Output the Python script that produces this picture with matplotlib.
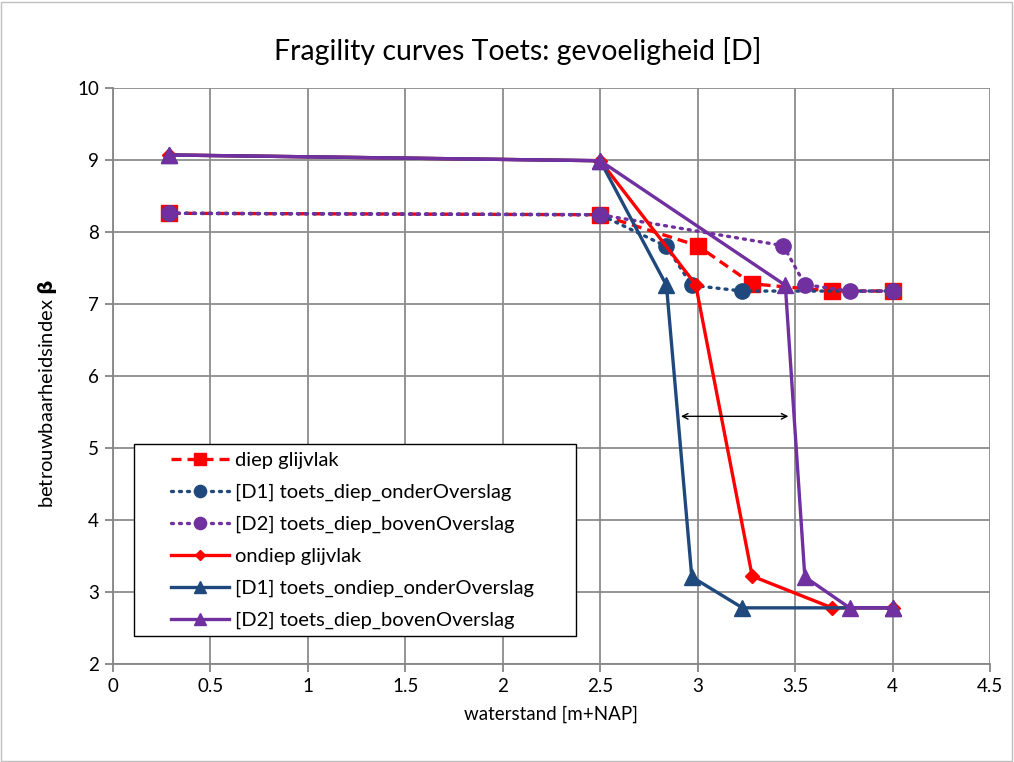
import matplotlib
matplotlib.use("Agg")
import matplotlib.pyplot as plt
from matplotlib.patches import Rectangle

plt.rcParams['font.family'] = ['Lato', 'DejaVu Sans']
plt.rcParams['mathtext.fontset'] = 'dejavusans'

# data
x_diep = [0.29, 2.5, 3.0, 3.28, 3.69, 4.0]
y_diep = [8.26, 8.24, 7.81, 7.28, 7.18, 7.18]

x_d1_diep = [0.29, 2.5, 2.84, 2.97, 3.23, 4.0]
y_d1_diep = [8.26, 8.24, 7.80, 7.26, 7.18, 7.18]

x_d2_diep = [0.29, 2.5, 3.44, 3.55, 3.78, 4.0]
y_d2_diep = [8.26, 8.24, 7.81, 7.27, 7.18, 7.18]

x_ondiep = [0.29, 2.5, 2.99, 3.28, 3.69, 4.0]
y_ondiep = [9.07, 8.99, 7.27, 3.22, 2.78, 2.78]

x_d1_ondiep = [0.29, 2.5, 2.84, 2.97, 3.23, 4.0]
y_d1_ondiep = [9.07, 8.99, 7.26, 3.21, 2.78, 2.78]

x_d2_ondiep = [0.29, 2.5, 3.45, 3.55, 3.78, 4.0]
y_d2_ondiep = [9.07, 8.99, 7.26, 3.21, 2.78, 2.78]

arrow_x = [2.90, 3.48]
arrow_y = 5.44

labels = [
    'diep glijvlak',
    '[D1] toets_diep_onderOverslag',
    '[D2] toets_diep_bovenOverslag',
    'ondiep glijvlak',
    '[D1] toets_ondiep_onderOverslag',
    '[D2] toets_diep_bovenOverslag',
]

RED = '#FF0000'
NAVY = '#1F497D'
PURPLE = '#7030A0'
dot = (0, (0.6, 1.8))

fig = plt.figure(figsize=(10.14, 7.62), dpi=100)
ax = fig.add_axes([0.1114, 0.1286, 0.8649, 0.7559])

ax.plot(x_diep, y_diep, color=RED, lw=2.4, ls=(0, (3, 1.8)), marker='s', ms=11, label=labels[0])
ax.plot(x_d1_diep, y_d1_diep, color=NAVY, lw=2.4, ls=dot, dash_capstyle='round', marker='o', ms=11, label=labels[1])
ax.plot(x_d2_diep, y_d2_diep, color=PURPLE, lw=2.4, ls=dot, dash_capstyle='round', marker='o', ms=11, label=labels[2])
ax.plot(x_ondiep, y_ondiep, color=RED, lw=2.4, marker='D', ms=7, label=labels[3])
ax.plot(x_d1_ondiep, y_d1_ondiep, color=NAVY, lw=2.4, marker='^', ms=11, label=labels[4])
ax.plot(x_d2_ondiep, y_d2_ondiep, color=PURPLE, lw=2.4, marker='^', ms=11, label=labels[5])

ax.annotate('', xy=(arrow_x[0], arrow_y), xytext=(arrow_x[1], arrow_y),
            arrowprops=dict(arrowstyle='<->', color='black', lw=1.0))

ax.set_xlim(0, 4.5)
ax.set_ylim(2, 10)
ax.set_xticks([0, 0.5, 1, 1.5, 2, 2.5, 3, 3.5, 4, 4.5])
ax.set_xticklabels(['0', '0.5', '1', '1.5', '2', '2.5', '3', '3.5', '4', '4.5'])
ax.set_yticks(range(2, 11))
ax.grid(True, color='#8C8C8C', lw=1.3)
ax.set_axisbelow(True)
for side in ['top', 'right']:
    ax.spines[side].set_visible(False)
for side in ['left', 'bottom']:
    ax.spines[side].set_color('#868686')
    ax.spines[side].set_linewidth(1.3)
ax.tick_params(axis='both', labelsize=13.5, length=6, width=1.3, color='#868686', pad=4)

ax.set_xlabel('waterstand [m+NAP]', fontsize=13.5, labelpad=8)
ax.set_ylabel(r'betrouwbaarheidsindex $\mathbf{\beta}$', fontsize=14.5, labelpad=10)
ax.yaxis.set_label_coords(-0.062, 0.469)
ax.set_title('Fragility curves Toets: gevoeligheid [D]', fontsize=20.5, pad=20, x=0.461)

# legend box drawn separately so the entries can be indented like the original
ax.add_patch(Rectangle((0.024, 0.049), 0.504, 0.333, transform=ax.transAxes,
                       facecolor='white', edgecolor='black', lw=1.0, zorder=4.5))
leg = ax.legend(loc='upper left', bbox_to_anchor=(0.066, 0.368), frameon=False,
                fontsize=14.5, handlelength=2.9, handletextpad=0.3, borderaxespad=0,
                borderpad=0, labelspacing=0.73, markerscale=0.8)
leg.set_zorder(5)

fig.patches.append(Rectangle((0.001, 0.001), 0.997, 0.997, transform=fig.transFigure,
                             fill=False, edgecolor='#BFBFBF', lw=1.0))

fig.savefig('out.png', dpi=100)
